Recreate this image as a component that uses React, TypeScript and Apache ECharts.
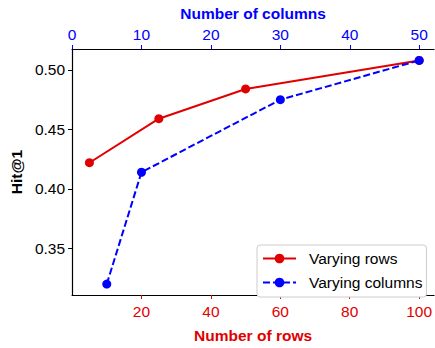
import React, { useEffect, useRef } from "react";
import * as echarts from "echarts";

const rowCounts = [5, 25, 50, 100];
const rowHits = [0.422, 0.459, 0.484, 0.508];
const colCounts = [5, 10, 30, 50];
const colHits = [0.32, 0.414, 0.475, 0.508];
const rowTicks = [20, 40, 60, 80, 100];
const colTicks = [0, 10, 20, 30, 40, 50];
const hitTicks = [0.35, 0.4, 0.45, 0.5];

const RED = "#e00000";
const BLUE = "#0000ff";
const FONT = "'Liberation Sans', Arial, sans-serif";
const FS = 15.5;

export default function App() {
  const ref = useRef<HTMLDivElement>(null);
  useEffect(() => {
    if (!ref.current) return;
    const chart = echarts.init(ref.current, null, { renderer: "svg" });
    chart.setOption({
      animation: false,
      textStyle: { fontFamily: FONT },
      grid: { left: 70, top: 49, right: 0, bottom: 44 },
      legend: {
        left: 257,
        top: 245,
        orient: "vertical",
        itemWidth: 33,
        itemHeight: 12,
        itemGap: 8,
        padding: [5.5, 4, 6.5, 5],
        borderColor: "#cccccc",
        borderWidth: 1,
        borderRadius: 3,
        backgroundColor: "#ffffff",
        textStyle: { fontSize: FS, color: "#000", fontFamily: FONT, padding: [0, 0, 0, 8] },
        data: ["Varying rows", "Varying columns"],
      },
      xAxis: [
        {
          type: "value",
          position: "bottom",
          min: 0,
          max: 104.29,
          name: "Number of rows",
          nameLocation: "middle",
          nameGap: 32,
          nameTextStyle: { color: RED, fontWeight: "bold", fontSize: FS, fontFamily: FONT },
          axisLine: { show: true, lineStyle: { color: "#000", width: 1.2 } },
          axisTick: { show: true, length: 4, lineStyle: { color: RED }, customValues: rowTicks },
          axisLabel: { color: RED, fontSize: FS, margin: 8, customValues: rowTicks },
          splitLine: { show: false },
        },
        {
          type: "value",
          position: "top",
          min: 0,
          max: 52.14,
          name: "Number of columns",
          nameLocation: "middle",
          nameGap: 28,
          nameTextStyle: { color: BLUE, fontWeight: "bold", fontSize: FS, fontFamily: FONT },
          axisLine: { show: true, lineStyle: { color: "#000", width: 1.2 } },
          axisTick: { show: true, length: 4, lineStyle: { color: BLUE }, customValues: colTicks },
          axisLabel: { color: BLUE, fontSize: FS, margin: 7, customValues: colTicks },
          splitLine: { show: false },
        },
      ],
      yAxis: {
        type: "value",
        min: 0.3108,
        max: 0.5176,
        name: "Hit@1",
        nameLocation: "middle",
        nameGap: 45,
        nameTextStyle: { color: "#000", fontWeight: "bold", fontSize: FS, fontFamily: FONT },
        axisLine: { show: true, lineStyle: { color: "#000", width: 1.2 } },
        axisTick: { show: true, length: 4, lineStyle: { color: "#000" }, customValues: hitTicks },
        axisLabel: {
          color: "#000",
          fontSize: FS,
          margin: 7,
          customValues: hitTicks,
          formatter: (v: number) => v.toFixed(2),
        },
        splitLine: { show: false },
      },
      series: [
        {
          name: "Varying rows",
          type: "line",
          xAxisIndex: 0,
          data: rowCounts.map((c, i) => [c, rowHits[i]]),
          symbol: "circle",
          symbolSize: 9,
          itemStyle: { color: RED },
          lineStyle: { color: RED, width: 2 },
        },
        {
          name: "Varying columns",
          type: "line",
          xAxisIndex: 1,
          data: colCounts.map((c, i) => [c, colHits[i]]),
          symbol: "circle",
          symbolSize: 9,
          itemStyle: { color: BLUE },
          lineStyle: { color: BLUE, width: 2, type: [7, 3] },
        },
      ],
    });
    return () => chart.dispose();
  }, []);
  return (
    <div
      ref={ref}
      style={{ position: "fixed", left: 0, top: 0, width: 435, height: 348, background: "#fff" }}
    />
  );
}
